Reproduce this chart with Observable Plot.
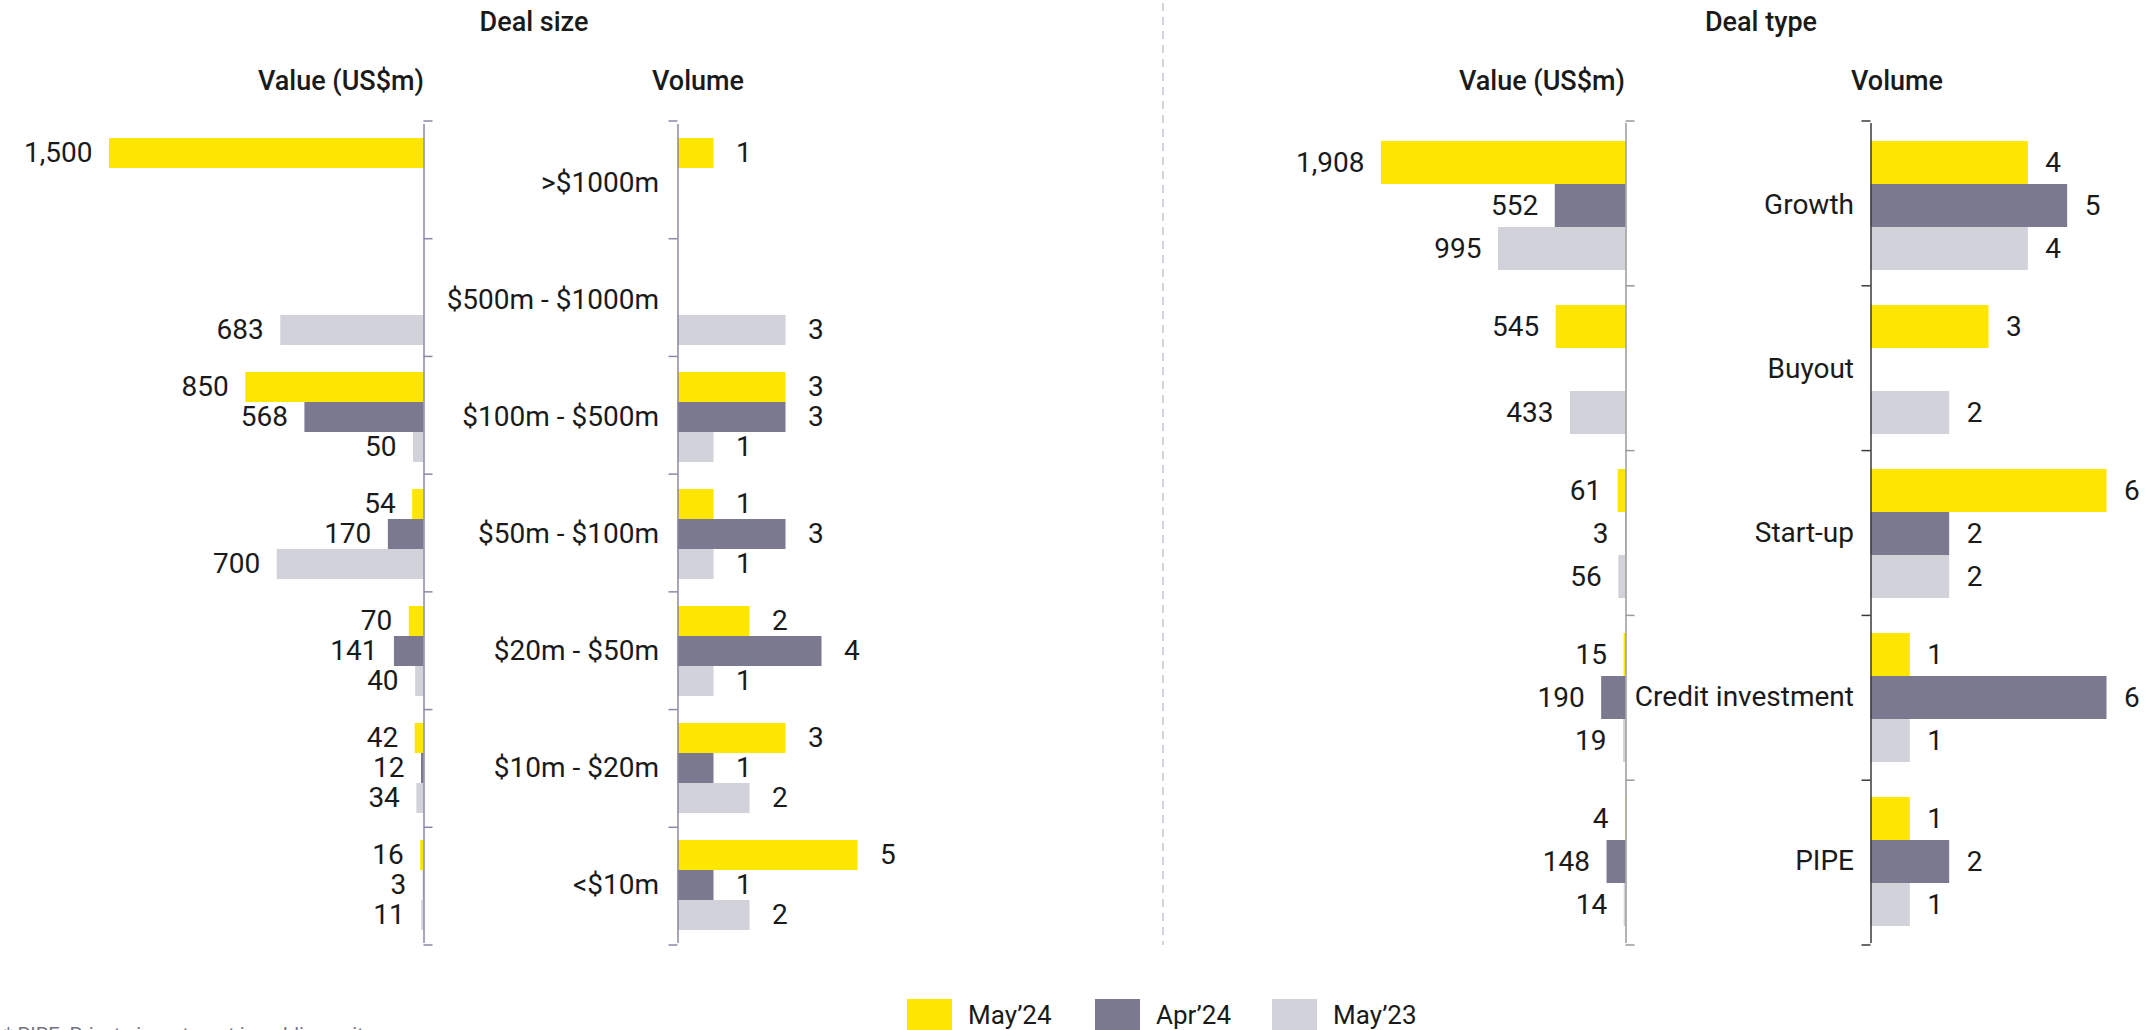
<!DOCTYPE html>
<html>
<head>
<meta charset="utf-8">
<script src="https://cdn.jsdelivr.net/npm/d3@7"></script>
<script src="https://cdn.jsdelivr.net/npm/@observablehq/plot@0.6"></script>
<style>
  html, body { margin: 0; padding: 0; background: #fff; overflow: hidden; }
  #root { position: relative; width: 2154px; height: 1030px; font-family: Roboto, "Noto Sans", sans-serif; color: #1a1a1a; }
  .abs { position: absolute; white-space: nowrap; }
  .title { font-size: 27px; font-weight: 500; transform: translate(-50%, -50%); }
  .sub { font-size: 27px; font-weight: 500; transform: translateY(-50%); }
  .legend-item { display: flex; align-items: center; font-size: 26px; }
  .swatch { width: 45px; height: 32px; margin-right: 16px; }
  .foot { font-size: 20px; color: #747480; }
  .panel { position: absolute; top: 0; }
</style>
</head>
<body>
<div id="root"></div>
<script>
// ---------- data ----------
const series = ["May’24", "Apr’24", "May’23"];
const seriesColors = ["#FFE600", "#7a7990", "#d2d2da"];

const sizeCategories = [">$1000m", "$500m - $1000m", "$100m - $500m", "$50m - $100m", "$20m - $50m", "$10m - $20m", "<$10m"];
const sizeValueMay24 = [1500, null, 850, 54, 70, 42, 16];
const sizeValueApr24 = [null, null, 568, 170, 141, 12, 3];
const sizeValueMay23 = [null, 683, 50, 700, 40, 34, 11];
const sizeVolumeMay24 = [1, null, 3, 1, 2, 3, 5];
const sizeVolumeApr24 = [null, null, 3, 3, 4, 1, 1];
const sizeVolumeMay23 = [null, 3, 1, 1, 1, 2, 2];

const typeCategories = ["Growth", "Buyout", "Start-up", "Credit investment", "PIPE"];
const typeValueMay24 = [1908, 545, 61, 15, 4];
const typeValueApr24 = [552, null, 3, 190, 148];
const typeValueMay23 = [995, 433, 56, 19, 14];
const typeVolumeMay24 = [4, 3, 6, 1, 1];
const typeVolumeApr24 = [5, null, 2, 6, 2];
const typeVolumeMay23 = [4, 2, 2, 1, 1];

const footnote = "* PIPE: Private investment in public equity";

// ---------- helpers ----------
function tidy(categories, lists) {
  const out = [];
  categories.forEach((c, i) => series.forEach((s, j) => {
    const v = lists[j][i];
    if (v != null) out.push({category: c, series: s, value: v});
  }));
  return out;
}

const root = document.getElementById("root");
const FONT = 'Roboto, "Noto Sans", sans-serif';

function addDiv(cls, text, left, top) {
  const d = document.createElement("div");
  d.className = "abs " + cls;
  d.textContent = text;
  d.style.left = left + "px";
  d.style.top = top + "px";
  root.appendChild(d);
  return d;
}

function panel(o) {
  const data = tidy(o.categories, o.lists);
  const max = d3.max(data, d => d.value);
  const fmt = d3.format(",");
  const marks = [
    Plot.barX(data, {x: "value", y: "series", fy: "category", fill: "series"}),
    Plot.text(data, {
      x: "value", y: "series", fy: "category", text: d => fmt(d.value),
      textAnchor: o.reverse ? "end" : "start", dx: o.reverse ? -o.valueDx : o.valueDx,
      fontSize: 28, fill: "#1a1a1a"
    }),
    Plot.ruleX([0], {stroke: o.axisColor, strokeWidth: 1.5})
  ];
  if (o.showLabels) {
    marks.push(Plot.text(o.categories, {
      fy: d => d, text: d => d, frameAnchor: "left", textAnchor: "end",
      dx: -o.labelDx, fontSize: 28, fill: "#1a1a1a"
    }));
  }
  const chart = Plot.plot({
    width: o.width, height: 960,
    marginTop: 121, marginBottom: 15, marginLeft: o.marginLeft, marginRight: o.marginRight,
    x: {domain: [0, max], reverse: o.reverse, axis: null},
    y: {domain: series, axis: null, paddingInner: 0, paddingOuter: 0.39},
    fy: {domain: o.categories, axis: null, padding: 0},
    color: {domain: series, range: seriesColors},
    style: {fontFamily: FONT, fontSize: "28px", overflow: "visible", background: "transparent"},
    marks
  });
  // boundary ticks between categories, placed through the plot's own scales
  const fy = chart.scale("fy"), xs = chart.scale("x");
  const [d0, d1] = xs.domain, [r0, r1] = xs.range;
  const x0 = xs.apply ? xs.apply(0) : r0 + (0 - d0) / (d1 - d0) * (r1 - r0);
  const top = Math.min(...fy.range), bottom = Math.max(...fy.range);
  const step = (bottom - top) / fy.domain.length;
  const ys = d3.range(fy.domain.length + 1).map(i => top + i * step);
  d3.select(chart).append("g").selectAll("line").data(ys).join("line")
    .attr("x1", x0).attr("x2", x0 + o.tickDir * 9)
    .attr("y1", d => d).attr("y2", d => d)
    .attr("stroke", o.axisColor).attr("stroke-width", 1.5);
  chart.classList.add("panel");
  chart.style.left = o.left + "px";
  chart.style.position = "absolute";
  chart.style.top = "0px";
  root.appendChild(chart);
}

// ---------- panels ----------
panel({categories: sizeCategories, lists: [sizeValueMay24, sizeValueApr24, sizeValueMay23],
  left: 0, width: 440, marginLeft: 109, marginRight: 16.5, reverse: true,
  valueDx: 17, axisColor: "#8a89a6", tickDir: 1});
panel({categories: sizeCategories, lists: [sizeVolumeMay24, sizeVolumeApr24, sizeVolumeMay23],
  left: 440, width: 460, marginLeft: 237.5, marginRight: 42.5, reverse: false,
  valueDx: 22, axisColor: "#8a89a6", tickDir: -1, showLabels: true, labelDx: 19});
panel({categories: typeCategories, lists: [typeValueMay24, typeValueApr24, typeValueMay23],
  left: 1180, width: 470, marginLeft: 201, marginRight: 24.5, reverse: true,
  valueDx: 17, axisColor: "#9a9a9a", tickDir: 1});
panel({categories: typeCategories, lists: [typeVolumeMay24, typeVolumeApr24, typeVolumeMay23],
  left: 1650, width: 504, marginLeft: 220.5, marginRight: 47.5, reverse: false,
  valueDx: 17, axisColor: "#3a3a3a", tickDir: -1, showLabels: true, labelDx: 17});

// ---------- titles ----------
addDiv("title", "Deal size", 534, 22);
addDiv("title", "Deal type", 1761, 22);
const s1 = addDiv("sub", "Value (US$m)", 0, 81); s1.style.left = "auto"; s1.style.right = (2154 - 424) + "px";
addDiv("title", "Volume", 698, 81);
const s2 = addDiv("sub", "Value (US$m)", 0, 81); s2.style.left = "auto"; s2.style.right = (2154 - 1625) + "px";
addDiv("title", "Volume", 1897, 81);

// ---------- dashed separator ----------
const sep = d3.select(root).append("svg").attr("class", "abs")
  .style("left", "1160px").style("top", "0px").attr("width", 6).attr("height", 950);
sep.append("line").attr("x1", 3).attr("x2", 3).attr("y1", 3).attr("y2", 945)
  .attr("stroke", "#d3d3db").attr("stroke-width", 2).attr("stroke-dasharray", "8 6");

// ---------- legend ----------
const legendX = [907, 1095, 1272];
series.forEach((s, i) => {
  const item = document.createElement("div");
  item.className = "abs legend-item";
  item.style.left = legendX[i] + "px";
  item.style.top = "999px";
  const sw = document.createElement("div");
  sw.className = "swatch";
  sw.style.background = seriesColors[i];
  const t = document.createElement("span");
  t.textContent = s;
  item.appendChild(sw); item.appendChild(t);
  root.appendChild(item);
});

// ---------- footnote ----------
addDiv("foot", footnote, 4, 1023);
</script>
</body>
</html>
